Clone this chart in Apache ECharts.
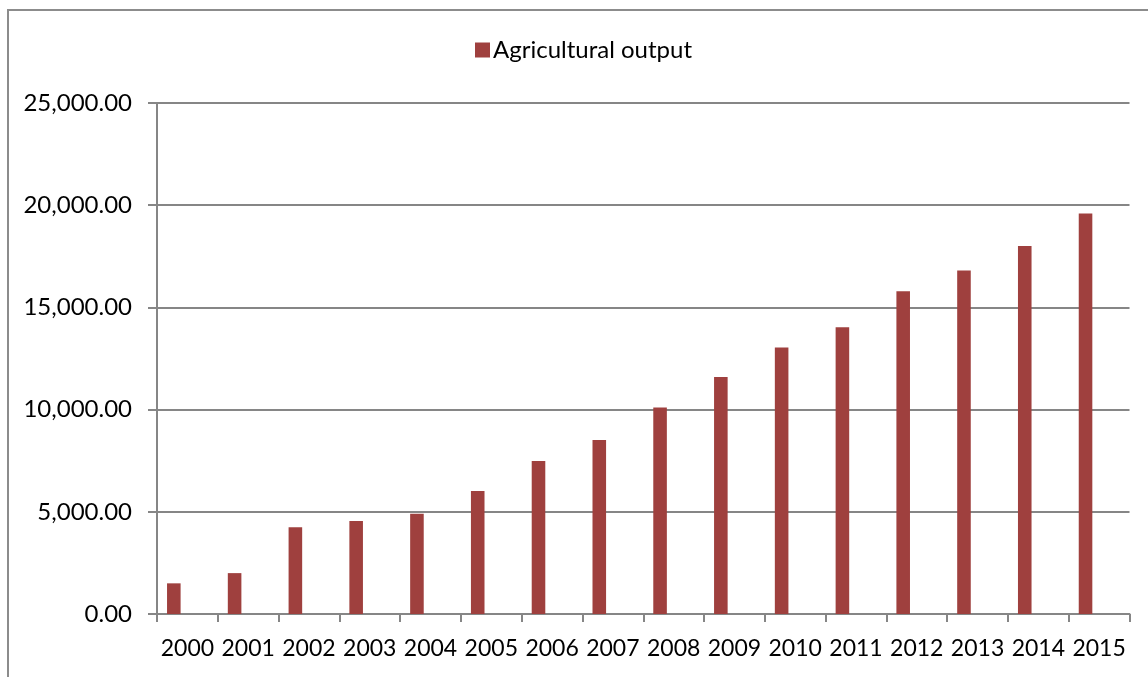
<!DOCTYPE html>
<html>
<head>
<meta charset="utf-8">
<script src="https://cdn.jsdelivr.net/npm/echarts@6/dist/echarts.min.js"></script>
<style>
html,body{margin:0;padding:0;background:#fff;}
#c{width:1148px;height:677px;}
</style>
</head>
<body>
<div id="c"></div>
<script>
const categories = ['2000','2001','2002','2003','2004','2005','2006','2007','2008','2009','2010','2011','2012','2013','2014','2015'];
const agriculturalOutput = [1500, 2000, 4240, 4550, 4900, 6020, 7480, 8510, 10100, 11600, 13040, 14030, 15790, 16800, 18000, 19600];
const emptySeries = categories.map(() => null);
const yTicks = [0, 5000, 10000, 15000, 20000, 25000];

const FONT = 'Lato';
function fmt(v) {
  return Number(v).toLocaleString('en-US', {minimumFractionDigits: 2, maximumFractionDigits: 2});
}

const chart = echarts.init(document.getElementById('c'), null, {renderer: 'canvas'});
chart.setOption({
  animation: false,
  backgroundColor: '#fff',
  textStyle: {fontFamily: FONT},
  graphic: [{
    type: 'rect',
    shape: {x: 8, y: 10, width: 1160, height: 700},
    style: {fill: 'none', stroke: '#8c8c8c', lineWidth: 2},
    silent: true
  }],
  legend: {
    data: ['Agricultural output'],
    left: 470,
    top: 33,
    itemWidth: 15,
    itemHeight: 15,
    itemGap: 8,
    icon: 'rect',
    textStyle: {fontFamily: FONT, fontSize: 24, color: '#000', padding: [0, 0, 0, -2]}
  },
  grid: {left: 157, right: 18.5, top: 103, bottom: 63, containLabel: false},
  xAxis: {
    type: 'category',
    data: categories,
    boundaryGap: true,
    axisLine: {show: true, lineStyle: {color: '#868686', width: 2}},
    axisTick: {show: true, length: 8, alignWithLabel: false, lineStyle: {color: '#868686', width: 2}},
    axisLabel: {fontFamily: FONT, fontSize: 23, color: '#000', margin: 23, interval: 0}
  },
  yAxis: {
    type: 'value',
    min: yTicks[0],
    max: yTicks[yTicks.length - 1],
    interval: 5000,
    axisLine: {show: true, lineStyle: {color: '#868686', width: 2}},
    axisTick: {show: true, length: 9, lineStyle: {color: '#868686', width: 2}},
    splitLine: {show: true, lineStyle: {color: '#868686', width: 2}},
    axisLabel: {fontFamily: FONT, fontSize: 24, color: '#000', margin: 25, formatter: fmt}
  },
  series: [
    {
      name: 'Agricultural output',
      type: 'bar',
      data: agriculturalOutput,
      itemStyle: {color: '#9F403E'},
      barGap: '0%',
      barCategoryGap: '33%'
    },
    {name: 's2', type: 'bar', data: emptySeries, barGap: '0%', barCategoryGap: '33%'},
    {name: 's3', type: 'bar', data: emptySeries, barGap: '0%', barCategoryGap: '33%'}
  ]
});
</script>
</body>
</html>
